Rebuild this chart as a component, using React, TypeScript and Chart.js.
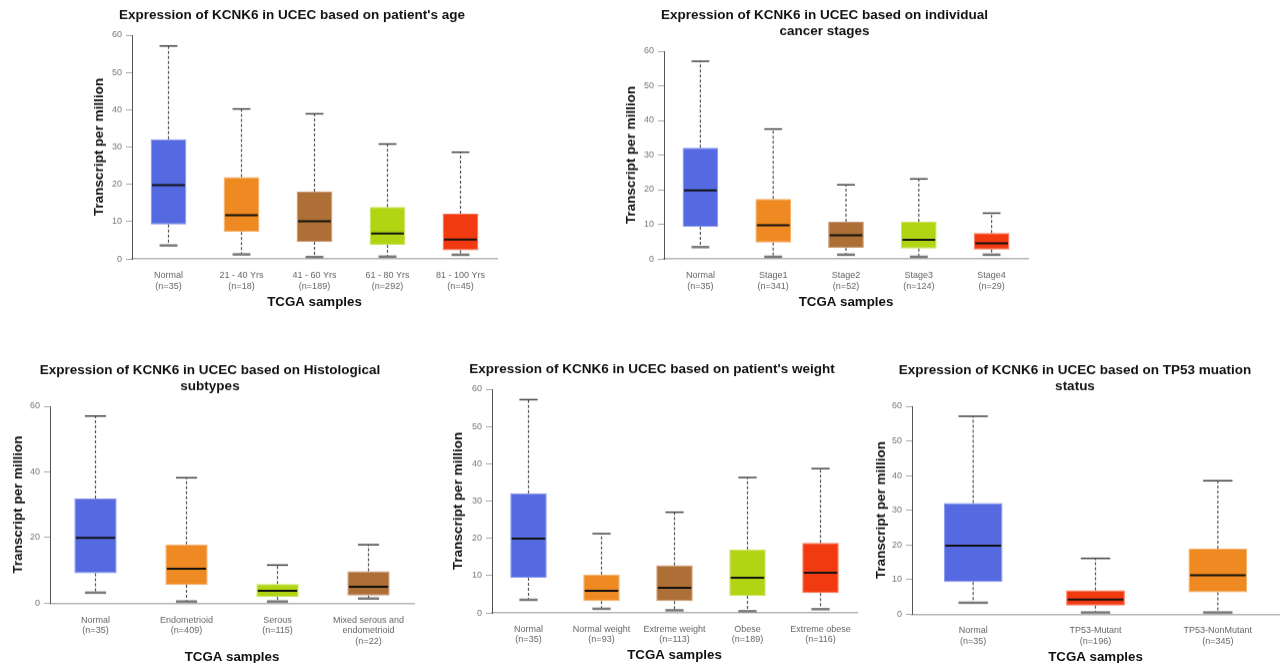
import React, { useEffect, useRef } from 'react';
import { Chart, registerables } from 'chart.js';

Chart.register(...registerables);

const FONT = '"Liberation Sans", Arial, Helvetica, sans-serif';

const BLUE = '#5569E1';
const ORANGE = '#EF8A22';
const BROWN = '#AE6F37';
const LIME = '#B2D513';
const RED = '#F23A11';

// ---- Panel 1: patient's age ----
const ageTitle = ["Expression of KCNK6 in UCEC based on patient's age"];
const ageLabels = ['Normal', '21 - 40 Yrs', '41 - 60 Yrs', '61 - 80 Yrs', '81 - 100 Yrs'];
const ageN = ['(n=35)', '(n=18)', '(n=189)', '(n=292)', '(n=45)'];
const ageMin = [3.6, 1.2, 0.5, 0.6, 1.1];
const ageQ1 = [9.2, 7.2, 4.6, 3.75, 2.3];
const ageMed = [19.8, 11.7, 10.1, 6.8, 5.2];
const ageQ3 = [32.1, 21.9, 18.0, 13.9, 12.1];
const ageMax = [57.1, 40.2, 38.9, 30.8, 28.6];
const ageColors = [BLUE, ORANGE, BROWN, LIME, RED];

// ---- Panel 2: cancer stages ----
const stageTitle = ['Expression of KCNK6 in UCEC based on individual', 'cancer stages'];
const stageLabels = ['Normal', 'Stage1', 'Stage2', 'Stage3', 'Stage4'];
const stageN = ['(n=35)', '(n=341)', '(n=52)', '(n=124)', '(n=29)'];
const stageMin = [3.4, 0.6, 1.2, 0.6, 1.2];
const stageQ1 = [9.3, 4.7, 3.2, 3.0, 2.7];
const stageMed = [19.8, 9.7, 6.8, 5.5, 4.5];
const stageQ3 = [32.1, 17.3, 10.7, 10.75, 7.5];
const stageMax = [57.1, 37.5, 21.4, 23.1, 13.2];
const stageColors = [BLUE, ORANGE, BROWN, LIME, RED];

// ---- Panel 3: histological subtypes ----
const histTitle = ['Expression of KCNK6 in UCEC based on Histological', 'subtypes'];
const histLabels = [['Normal'], ['Endometrioid'], ['Serous'], ['Mixed serous and', 'endometrioid']];
const histN = ['(n=35)', '(n=409)', '(n=115)', '(n=22)'];
const histMin = [3.2, 0.5, 0.5, 1.4];
const histQ1 = [9.1, 5.6, 1.9, 2.3];
const histMed = [19.9, 10.5, 3.75, 5.0];
const histQ3 = [31.9, 17.9, 5.8, 9.7];
const histMax = [57.0, 38.2, 11.6, 17.8];
const histColors = [BLUE, ORANGE, LIME, BROWN];

// ---- Panel 4: patient's weight ----
const weightTitle = ["Expression of KCNK6 in UCEC based on patient's weight"];
const weightLabels = ['Normal', 'Normal weight', 'Extreme weight', 'Obese', 'Extreme obese'];
const weightN = ['(n=35)', '(n=93)', '(n=113)', '(n=189)', '(n=116)'];
const weightMin = [3.5, 1.1, 0.7, 0.45, 1.0];
const weightQ1 = [9.4, 3.2, 3.2, 4.55, 5.3];
const weightMed = [19.9, 5.9, 6.7, 9.4, 10.8];
const weightQ3 = [32.1, 10.3, 12.8, 17.05, 18.8];
const weightMax = [57.2, 21.25, 27.0, 36.3, 38.7];
const weightColors = [BLUE, ORANGE, BROWN, LIME, RED];

// ---- Panel 5: TP53 mutation status ----
const tp53Title = ['Expression of KCNK6 in UCEC based on TP53 muation', 'status'];
const tp53Labels = ['Normal', 'TP53-Mutant', 'TP53-NonMutant'];
const tp53N = ['(n=35)', '(n=196)', '(n=345)'];
const tp53Min = [3.3, 0.5, 0.5];
const tp53Q1 = [9.25, 2.5, 6.3];
const tp53Med = [19.8, 4.2, 11.2];
const tp53Q3 = [32.1, 6.9, 18.9];
const tp53Max = [57.1, 16.1, 38.5];
const tp53Colors = [BLUE, RED, ORANGE];

const yTicksStd = 10;
const yTicksHist = 20;

function lighten(hex: string, amt: number) {
  const n = parseInt(hex.slice(1), 16);
  const r = (n >> 16) & 255, g = (n >> 8) & 255, b = n & 255;
  const f = (c: number) => Math.round(c + (255 - c) * amt);
  return `rgb(${f(r)},${f(g)},${f(b)})`;
}

const boxPlugin = {
  id: 'boxWhiskers',
  afterDatasetsDraw(chart: any) {
    const ds = chart.data.datasets[0];
    const meta = chart.getDatasetMeta(0);
    const ys = chart.scales.y;
    const ctx = chart.ctx;
    const line = (x1: number, y1: number, x2: number, y2: number) => {
      ctx.beginPath();
      ctx.moveTo(x1, y1);
      ctx.lineTo(x2, y2);
      ctx.stroke();
    };
    meta.data.forEach((el: any, i: number) => {
      const { x, width } = el.getProps(['x', 'width'], true);
      const half = width / 2;
      const yMin = ys.getPixelForValue(ds.statMin[i]);
      const yQ1 = ys.getPixelForValue(ds.data[i][0]);
      const yQ3 = ys.getPixelForValue(ds.data[i][1]);
      const yMax = ys.getPixelForValue(ds.statMax[i]);
      const yMed = ys.getPixelForValue(ds.statMed[i]);
      ctx.save();
      ctx.strokeStyle = '#555';
      ctx.lineWidth = 1.2;
      ctx.setLineDash([3, 2]);
      line(x, yQ3, x, yMax);
      line(x, yQ1, x, yMin);
      ctx.setLineDash([]);
      ctx.strokeStyle = '#444';
      ctx.lineWidth = 1.5;
      line(x - half / 2, yMax, x + half / 2, yMax);
      ctx.strokeStyle = '#7a7a7a';
      ctx.lineWidth = 2.5;
      line(x - half / 2, yMin, x + half / 2, yMin);
      ctx.strokeStyle = '#111';
      ctx.lineWidth = 2;
      line(x - half + 1.5, yMed, x + half - 1.5, yMed);
      ctx.restore();
    });
  },
};

type Spec = {
  title: string[];
  labels: any[];
  n: string[];
  min: number[];
  q1: number[];
  med: number[];
  q3: number[];
  max: number[];
  colors: string[];
  step: number;
  area: { l: number; t: number; r: number; b: number };
  canvasTop: number;
  titleCX: number;
  titleY: number;
  yTitleX: number;
  xLabelY: number;
  xTitleY: number;
  barPct: number;
};

const TITLE_SIZE = 13.5;
const TITLE_LH = 1.17;
const YTITLE_SIZE = 13.5;
const XTITLE_SIZE = 13.3;
const TICK_SIZE = 9;
const TICK_LH = 1.17;
const PAD_R = 6;
const PAD_B = 4;

function geom(s: Spec) {
  const canvasLeft = 2 * s.titleCX - s.area.r;
  const width = s.area.r + PAD_R - canvasLeft;
  const yWidth = s.area.l - canvasLeft;
  const yTitlePad = s.yTitleX - canvasLeft - (YTITLE_SIZE * 1.2) / 2;
  const tLh = TITLE_SIZE * TITLE_LH;
  const titlePadTop = s.titleY - s.canvasTop - tLh / 2;
  const titlePadBottom = s.area.t - s.canvasTop - titlePadTop - tLh * s.title.length;
  const xPad = s.xLabelY - s.area.b - (TICK_SIZE * TICK_LH) / 2;
  const hx = s.xTitleY - s.area.b + (XTITLE_SIZE * 1.2) / 2;
  const height = s.area.b + hx + PAD_B - s.canvasTop;
  return { canvasLeft, width, yWidth, yTitlePad, titlePadTop, titlePadBottom, xPad, hx, height };
}

function Panel({ s }: { s: Spec }) {
  const ref = useRef<HTMLCanvasElement>(null);
  const g = geom(s);
  useEffect(() => {
    if (!ref.current) return;
    const labels = s.labels.map((l, i) => [...(Array.isArray(l) ? l : [l]), s.n[i]]);
    const chart = new Chart(ref.current, {
      type: 'bar',
      data: {
        labels,
        datasets: [
          {
            data: s.q1.map((v, i) => [v, s.q3[i]]),
            backgroundColor: s.colors,
            borderColor: s.colors.map((c) => lighten(c, 0.3)),
            borderWidth: 1,
            borderSkipped: false,
            barPercentage: s.barPct,
            categoryPercentage: 1,
            statMin: s.min,
            statMed: s.med,
            statMax: s.max,
          } as any,
        ],
      },
      options: {
        responsive: false,
        animation: false,
        layout: { padding: { left: 0, right: PAD_R, top: 0, bottom: PAD_B } },
        plugins: {
          legend: { display: false },
          tooltip: { enabled: false },
          title: {
            display: true,
            text: s.title,
            color: '#111',
            font: { family: FONT, size: TITLE_SIZE, weight: 'bold', lineHeight: TITLE_LH },
            padding: { top: g.titlePadTop, bottom: g.titlePadBottom },
          },
        },
        scales: {
          x: {
            type: 'category',
            offset: true,
            grid: { display: false, drawTicks: false },
            border: { display: true, color: '#b5b5b5', width: 1.5 },
            ticks: {
              font: { family: FONT, size: TICK_SIZE, lineHeight: TICK_LH },
              color: '#666',
              padding: g.xPad,
              maxRotation: 0,
              autoSkip: false,
            },
            title: {
              display: true,
              text: 'TCGA samples',
              color: '#111',
              font: { family: FONT, size: XTITLE_SIZE, weight: 'bold' },
              padding: { top: 0, bottom: 0 },
            },
            afterFit: (sc: any) => {
              sc.height = g.hx;
            },
          },
          y: {
            min: 0,
            max: 60,
            ticks: {
              stepSize: s.step,
              font: { family: FONT, size: TICK_SIZE },
              color: '#777',
              padding: 4,
            },
            grid: { drawOnChartArea: false, drawTicks: true, tickLength: 6, color: '#aaa' },
            border: { display: true, color: '#555', width: 1 },
            title: {
              display: true,
              text: 'Transcript per million',
              color: '#111',
              font: { family: FONT, size: YTITLE_SIZE, weight: 'bold' },
              padding: { top: g.yTitlePad, bottom: 0 },
            },
            afterFit: (sc: any) => {
              sc.width = g.yWidth;
            },
          },
        },
      } as any,
      plugins: [boxPlugin],
    });
    return () => chart.destroy();
  }, []);
  return (
    <canvas
      ref={ref}
      width={g.width}
      height={g.height}
      style={{ position: 'absolute', left: g.canvasLeft, top: s.canvasTop, width: g.width, height: g.height }}
    />
  );
}

const specs: Spec[] = [
  {
    title: ageTitle, labels: ageLabels, n: ageN, min: ageMin, q1: ageQ1, med: ageMed, q3: ageQ3, max: ageMax,
    colors: ageColors, step: yTicksStd,
    area: { l: 132, t: 35, r: 497, b: 259 }, canvasTop: 0, titleCX: 292, titleY: 15, yTitleX: 99,
    xLabelY: 275.5, xTitleY: 302, barPct: 0.49,
  },
  {
    title: stageTitle, labels: stageLabels, n: stageN, min: stageMin, q1: stageQ1, med: stageMed, q3: stageQ3, max: stageMax,
    colors: stageColors, step: yTicksStd,
    area: { l: 664, t: 51, r: 1028, b: 259 }, canvasTop: 0, titleCX: 824.5, titleY: 15, yTitleX: 631,
    xLabelY: 275.5, xTitleY: 302, barPct: 0.49,
  },
  {
    title: histTitle, labels: histLabels, n: histN, min: histMin, q1: histQ1, med: histMed, q3: histQ3, max: histMax,
    colors: histColors, step: yTicksHist,
    area: { l: 50, t: 406, r: 414, b: 603 }, canvasTop: 335, titleCX: 210, titleY: 370, yTitleX: 18.5,
    xLabelY: 620, xTitleY: 656.7, barPct: 0.465,
  },
  {
    title: weightTitle, labels: weightLabels, n: weightN, min: weightMin, q1: weightQ1, med: weightMed, q3: weightQ3, max: weightMax,
    colors: weightColors, step: yTicksStd,
    area: { l: 492, t: 389, r: 857, b: 613 }, canvasTop: 335, titleCX: 652, titleY: 369, yTitleX: 458,
    xLabelY: 629, xTitleY: 655, barPct: 0.5,
  },
  {
    title: tp53Title, labels: tp53Labels, n: tp53N, min: tp53Min, q1: tp53Q1, med: tp53Med, q3: tp53Q3, max: tp53Max,
    colors: tp53Colors, step: yTicksStd,
    area: { l: 912, t: 406, r: 1279, b: 614 }, canvasTop: 335, titleCX: 1075, titleY: 370, yTitleX: 881.7,
    xLabelY: 630.3, xTitleY: 656.7, barPct: 0.48,
  },
];

export default function App() {
  return (
    <div
      style={{
        position: 'fixed',
        left: 0,
        top: 0,
        width: 1280,
        height: 663,
        overflow: 'hidden',
        background: '#fff',
      }}
    >
      {specs.map((s, i) => (
        <Panel key={i} s={s} />
      ))}
    </div>
  );
}
